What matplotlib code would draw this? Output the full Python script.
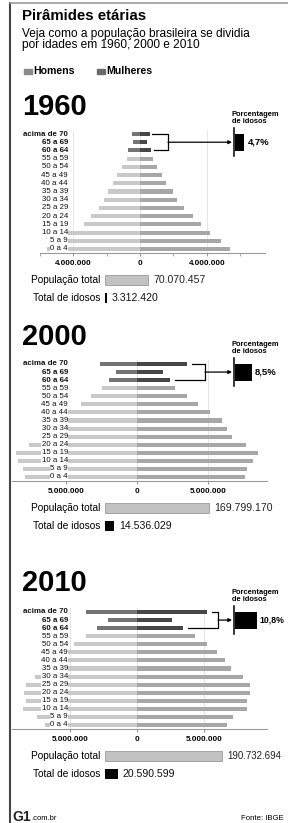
import matplotlib
matplotlib.use('Agg')
import matplotlib.pyplot as plt
from matplotlib.transforms import blended_transform_factory

plt.rcParams['font.family'] = ['Liberation Sans', 'DejaVu Sans']

W, H = 288, 823

idades = ['0 a 4', '5 a 9', '10 a 14', '15 a 19', '20 a 24', '25 a 29', '30 a 34',
          '35 a 39', '40 a 44', '45 a 49', '50 a 54', '55 a 59', '60 a 64', '65 a 69',
          'acima de 70']

# milhoes de pessoas por faixa
homens_1960 = [5.6, 4.95, 4.3, 3.38, 2.97, 2.48, 2.18, 1.9, 1.62, 1.37, 1.07, 0.78, 0.72, 0.4, 0.5]
mulheres_1960 = [5.37, 4.84, 4.2, 3.63, 3.16, 2.63, 2.2, 1.95, 1.55, 1.3, 1.0, 0.78, 0.68, 0.4, 0.6]
homens_2000 = [7.9, 8.0, 8.35, 8.55, 7.6, 6.4, 6.1, 5.8, 5.0, 3.95, 3.25, 2.45, 2.0, 1.5, 2.6]
mulheres_2000 = [7.6, 7.75, 8.15, 8.5, 7.7, 6.7, 6.35, 6.0, 5.15, 4.3, 3.5, 2.7, 2.35, 1.8, 3.5]
homens_2010 = [6.85, 7.45, 8.5, 8.3, 8.4, 8.3, 7.6, 6.7, 6.3, 5.6, 4.7, 3.8, 3.0, 2.2, 3.8]
mulheres_2010 = [6.7, 7.2, 8.2, 8.2, 8.4, 8.45, 7.9, 7.0, 6.55, 6.0, 5.2, 4.3, 3.4, 2.6, 5.2]

anos = ['1960', '2000', '2010']
homens = [homens_1960, homens_2000, homens_2010]
mulheres = [mulheres_1960, mulheres_2000, mulheres_2010]
pop_total = [70070457, 169799170, 190732694]
total_idosos = [3312420, 14536029, 20590599]
pct_idosos = [4.7, 8.5, 10.8]
tick_step = [4, 5, 5]

# layout (pixels)
row_top = [134, 364, 612]
row_bot = [249, 477, 725]
titulo_y = [107, 337, 583]
escala = [17.08, 14.2, 13.4]        # px por milhao
eixo_lr = [(40, 265), (12, 267), (12, 267)]
chave_x = [168, 205, 218]
cx = 137

c_hom, c_mul = '#c9c9c9', '#a7a7a7'
c_hom_id, c_mul_id = '#747474', '#474747'

fig = plt.figure(figsize=(W / 100, H / 100), dpi=100)


def px_axes(l, t, r, b, z=1):
    a = fig.add_axes([l / W, 1 - b / H, (r - l) / W, (b - t) / H], zorder=z)
    return a


ov = fig.add_axes([0, 0, 1, 1], zorder=5)
ov.set_xlim(0, W)
ov.set_ylim(H, 0)
ov.axis('off')
ov.patch.set_alpha(0)

# bordas
ov.plot([10, 10], [3, H], color='#444444', lw=1.5)
ov.plot([10, W], [3, 3], color='#999999', lw=1.2)

ov.text(22, 16, 'Pirâmides etárias', fontsize=10.8, fontweight='bold', va='center')
ov.text(22, 34, 'Veja como a população brasileira se dividia', fontsize=8.6, va='center')
ov.text(22, 44.5, 'por idades em 1960, 2000 e 2010', fontsize=8.6, va='center')
ov.add_patch(plt.Rectangle((24, 69), 8, 4.5, color='#8a8a8a'))
ov.text(33.5, 71, 'Homens', fontsize=7.6, fontweight='bold', va='center')
ov.add_patch(plt.Rectangle((97, 69), 8, 4.5, color='#6a6a6a'))
ov.text(106.5, 71, 'Mulheres', fontsize=7.6, fontweight='bold', va='center')

for i, ano in enumerate(anos):
    sp = (row_bot[i] - row_top[i]) / 14
    sc = escala[i]
    l, r = eixo_lr[i]
    ax = px_axes(l, row_top[i] - sp / 2, r, row_bot[i] + sp / 2)
    ax.set_xlim((l - cx) / sc, (r - cx) / sc)
    ax.set_ylim(-0.5, 14.5)
    ys = list(range(len(idades)))
    cores_h = [c_hom_id if k >= 12 else c_hom for k in ys]
    cores_m = [c_mul_id if k >= 12 else c_mul for k in ys]
    ax.barh(ys, [-v for v in homens[i]], height=0.5, color=cores_h, zorder=2)
    ax.barh(ys, mulheres[i], height=0.5, color=cores_m, zorder=2)
    st = tick_step[i]
    ax.set_xticks([-st, 0, st])
    ax.set_xticklabels([f"{abs(v) * 1000000:,.0f}".replace(',', '.') for v in (-st, 0, st)],
                       fontsize=5.8, fontweight='bold')
    if i == 0:
        ax.set_xticks([-6, -2, 2, 6], minor=True)
    ax.tick_params(axis='x', length=2, color='#999999', pad=3, which='both')
    ax.set_yticks([])
    for s in ['top', 'left', 'right']:
        ax.spines[s].set_visible(False)
    ax.spines['bottom'].set_color('#999999')
    ax.spines['bottom'].set_linewidth(0.8)
    ax.grid(axis='x', color='#e2e2e2', lw=0.6, zorder=0)
    ax.set_axisbelow(True)
    ax.patch.set_alpha(0)

    tr = blended_transform_factory(ov.transData, ax.transData)
    for k, lab in enumerate(idades):
        ov.text(68, k, lab, transform=tr, ha='right', va='center', fontsize=5.7,
                fontweight='bold' if k >= 12 else 'normal', color='#111111',
                bbox=dict(facecolor='white', edgecolor='none', pad=0.3), zorder=6)

    ov.text(22, titulo_y[i], ano, fontsize=21, fontweight='bold', va='center')

    # chave dos idosos
    y70, y60 = row_top[i], row_top[i] + 2 * sp
    e70 = cx + mulheres[i][14] * sc + 5
    e60 = cx + mulheres[i][12] * sc + 5
    bx = chave_x[i]
    ov.plot([e70, bx, bx, e60], [y70, y70, y60, y60], color='black', lw=0.9)
    yc = (y70 + y60) / 2
    ov.annotate('', xy=(232, yc), xytext=(bx, yc),
                arrowprops=dict(arrowstyle='-|>', lw=0.9, color='black',
                                mutation_scale=5, shrinkA=0, shrinkB=0))
    ov.plot([234, 234], [yc - 14, yc + 14], color='black', lw=1.1)
    ov.text(232, yc - 28, 'Porcentagem', fontsize=5.4, fontweight='bold', va='center')
    ov.text(232, yc - 21, 'de idosos', fontsize=5.4, fontweight='bold', va='center')
    pax = px_axes(235, yc - 8.5, 235 + 50, yc + 8.5, z=2)
    pax.set_xlim(0, 50 / 2.0)
    pax.set_ylim(-0.5, 0.5)
    pax.barh([0], [pct_idosos[i]], height=1, color='black')
    pax.text(pct_idosos[i] + 1.6, 0, f"{pct_idosos[i]:.1f}%".replace('.', ','),
             fontsize=6.8 if i < 2 else 6.3, fontweight='bold', va='center', clip_on=False)
    pax.axis('off')

    # totais
    yp = row_bot[i] + 31
    yi = row_bot[i] + 49
    ov.text(100, yp, 'População total', fontsize=7.3, ha='right', va='center')
    ov.text(100, yi, 'Total de idosos', fontsize=7.3, ha='right', va='center')
    tax = px_axes(105, yp - 9, 288, yi + 9, z=2)
    tax.set_xlim(0, (288 - 105) / 0.615e-6)
    tax.set_ylim(yi + 9, yp - 9)
    tax.barh([yp], [pop_total[i]], height=9.5, color='#c2c2c2', edgecolor='#8c8c8c', lw=0.5)
    tax.barh([yi], [total_idosos[i]], height=9.5, color='black')
    tax.text(pop_total[i] + 8e6, yp, f"{pop_total[i]:,}".replace(',', '.'),
             fontsize=7.6 if i < 2 else 7.0, va='center', color='#222222')
    tax.text(total_idosos[i] + 8e6, yi, f"{total_idosos[i]:,}".replace(',', '.'),
             fontsize=7.6, va='center', color='#111111')
    tax.axis('off')

ov.text(12, 817, 'G1', fontsize=10, fontweight='bold', va='center', color='#222222')
ov.text(31, 819, '.com.br', fontsize=5.5, va='center')
ov.text(284, 819, 'Fonte: IBGE', fontsize=5.6, va='center', ha='right')

fig.savefig('out.png', dpi=100)
